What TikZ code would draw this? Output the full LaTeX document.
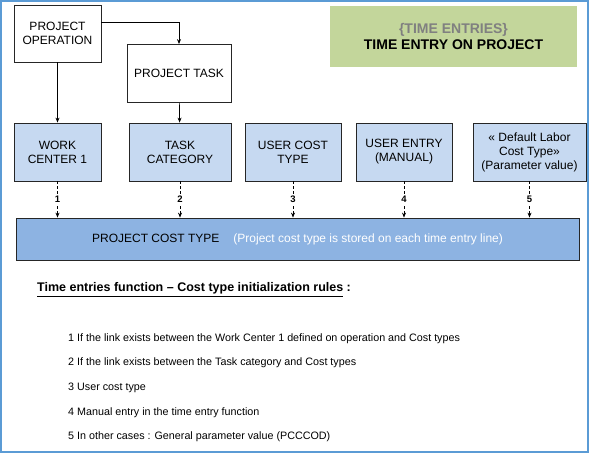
\documentclass[tikz,border=0pt]{standalone}
\usepackage{fontspec}
\setmainfont{Liberation Sans}
\usetikzlibrary{arrows.meta}
\definecolor{boxblue}{HTML}{C6D9F1}
\definecolor{costblue}{HTML}{8DB3E2}
\definecolor{titlegreen}{HTML}{C3D69B}
\definecolor{frameblue}{HTML}{5B9BD5}

\begin{document}
\begin{tikzpicture}[x=1pt,y=-1pt,
  wbox/.style={draw=black!85,line width=0.8pt,fill=white,align=center,inner sep=0pt,font=\fontsize{12}{14}\selectfont},
  bbox/.style={wbox,fill=boxblue},
  link/.style={-{Stealth[length=5pt,width=4pt]},line width=0.7pt},
  dlink/.style={link,dash pattern=on 3pt off 2pt},
  nb/.style={font=\fontsize{9.5}{10}\selectfont\bfseries,fill=white,inner sep=1pt},
  rule/.style={anchor=base west,inner sep=0pt,font=\fontsize{10.75}{13}\selectfont}]
    \useasboundingbox (0,0) rectangle (592,454);
    \draw[frameblue,line width=1.5pt] (1,1) rectangle (588,452);
    % top boxes
    \node[wbox,minimum width=87pt,minimum height=57pt] (po) at (57.5,33.5) {PROJECT\\OPERATION};
    \node[wbox,minimum width=104pt,minimum height=58pt] (pt) at (179,73.5) {PROJECT TASK};
    \node[fill=titlegreen,minimum width=247pt,minimum height=61pt,align=center,font=\fontsize{14}{16}\selectfont\bfseries] (ttl) at (453.5,36.5) {\textcolor{gray}{\{TIME ENTRIES\}}\\TIME ENTRY ON PROJECT};
    % sources of the cost type
    \node[bbox,minimum width=87pt,minimum height=58pt] (wc) at (57.5,152) {WORK\\CENTER 1};
    \node[bbox,minimum width=102pt,minimum height=58pt] (tc) at (180,152) {TASK\\CATEGORY};
    \node[bbox,minimum width=96pt,minimum height=58pt] (uc) at (293,152) {USER COST\\TYPE};
    \node[bbox,minimum width=96pt,minimum height=58pt] (ue) at (404,152) {USER ENTRY\\(MANUAL)};
    \node[bbox,minimum width=113pt,minimum height=58pt] (dl) at (529.5,152) {« Default Labor\\Cost Type»\\(Parameter value)};
    \node[wbox,fill=costblue,minimum width=563pt,minimum height=42pt] (cost) at (297.5,239) {PROJECT COST TYPE\hspace{14pt}{\color{white}(Project cost type is stored on each time entry line)}};
    \draw[link] (po) -- (wc);
    \draw[link] ([yshift=11.5pt]po.east) -| (pt.north);
    \draw[link] (pt) -- (tc);
    \draw[dlink] (wc.south) -- (wc.south |- cost.north) node[nb,midway]{1};
    \draw[dlink] (tc.south) -- (tc.south |- cost.north) node[nb,midway]{2};
    \draw[dlink] (uc.south) -- (uc.south |- cost.north) node[nb,midway]{3};
    \draw[dlink] (ue.south) -- (ue.south |- cost.north) node[nb,midway]{4};
    \draw[dlink] (dl.south) -- (dl.south |- cost.north) node[nb,midway]{5};
    % rules
    \node[rule,font=\fontsize{12.5}{15}\selectfont\bfseries] (rtitle) at (37,292) {\underline{Time entries function – Cost type initialization rules} :};
    \foreach \i/\yy/\txt in {1/342/If the link exists between the Work Center 1 defined on operation and Cost types,
        2/366/If the link exists between the Task category and Cost types,
        3/391/User cost type,
        4/415/Manual entry in the time entry function,
        5/439/In other cases : General parameter value (PCCCOD)}
      \node[rule] (r\i) at (68,\yy) {\i\ \txt};
\end{tikzpicture}
\end{document}
